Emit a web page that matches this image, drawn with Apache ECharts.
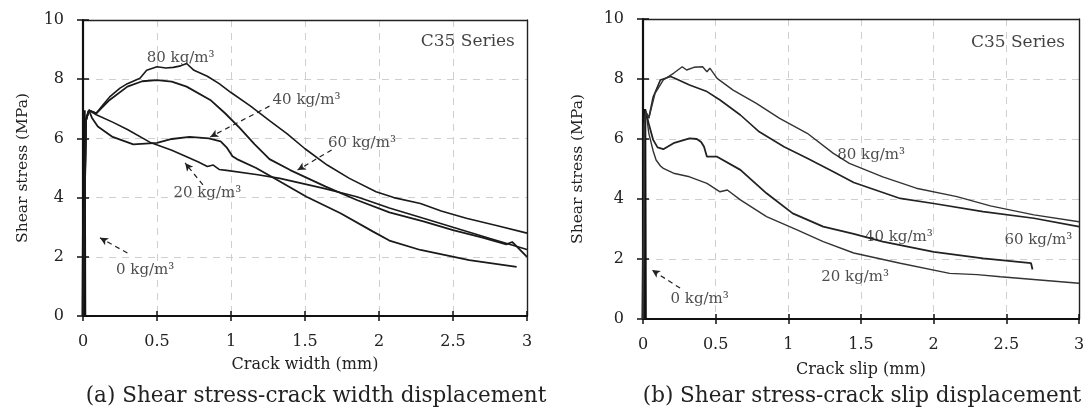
<!DOCTYPE html>
<html>
<head>
<meta charset="utf-8">
<script src="https://cdn.jsdelivr.net/npm/echarts@6/dist/echarts.min.js"></script>
<style>
html,body{margin:0;padding:0;background:#fff;}
#c{width:1091px;height:410px;}
</style>
</head>
<body>
<div id="c"></div>
<script>
// ---------- DATA ----------
const xTickInterval = 0.5;
const yTickInterval = 2;
const captions = ['(a) Shear stress-crack width displacement', '(b) Shear stress-crack slip displacement'];
const xTitles = ['Crack width (mm)', 'Crack slip (mm)'];
const yTitle = 'Shear stress (MPa)';
const seriesTag = 'C35 Series';

// (a) Shear stress vs crack width  [width mm, stress MPa]
const width0 = [[0,0],[0.008,6.95],[0.012,0]];
const width20 = [[0,0],[0.02,6.7],[0.04,6.95],[0.09,6.8],[0.2,6.55],[0.3,6.3],[0.46,5.85],[0.6,5.6],[0.7,5.38],[0.78,5.2],[0.84,5.05],[0.88,5.1],[0.92,4.95],[0.97,4.92],[1.17,4.78],[1.33,4.65],[1.62,4.32],[1.85,4.03],[2.07,3.65],[2.3,3.3],[2.5,3.0],[2.75,2.62],[3.0,2.25]];
const width40 = [[0,0],[0.02,6.6],[0.04,6.95],[0.06,6.7],[0.1,6.4],[0.2,6.05],[0.34,5.8],[0.5,5.85],[0.6,5.98],[0.72,6.05],[0.85,6.0],[0.93,5.9],[0.97,5.7],[1.01,5.4],[1.04,5.3],[1.17,5.0],[1.31,4.6],[1.51,4.03],[1.74,3.47],[1.96,2.85],[2.07,2.55],[2.28,2.23],[2.61,1.89],[2.93,1.66]];
const width60 = [[0,0],[0.02,6.6],[0.04,6.95],[0.09,6.85],[0.18,7.3],[0.3,7.75],[0.4,7.93],[0.5,7.97],[0.6,7.92],[0.7,7.75],[0.86,7.3],[0.96,6.85],[1.06,6.35],[1.16,5.8],[1.26,5.3],[1.4,4.93],[1.64,4.37],[1.85,3.92],[2.07,3.5],[2.3,3.2],[2.5,2.9],[2.7,2.65],[2.86,2.42],[2.9,2.5],[2.93,2.35],[3.0,2.0]];
const width80 = [[0,0],[0.02,6.6],[0.04,6.95],[0.09,6.85],[0.13,7.1],[0.18,7.4],[0.25,7.7],[0.3,7.85],[0.385,8.03],[0.43,8.3],[0.5,8.42],[0.56,8.38],[0.61,8.4],[0.66,8.45],[0.7,8.53],[0.75,8.3],[0.84,8.1],[0.92,7.85],[1.0,7.55],[1.13,7.1],[1.26,6.6],[1.38,6.15],[1.5,5.65],[1.65,5.1],[1.8,4.65],[1.98,4.2],[2.1,4.0],[2.28,3.8],[2.42,3.55],[2.59,3.3],[2.8,3.05],[3.0,2.8]];

// (b) Shear stress vs crack slip  [slip mm, stress MPa]
const slip0 = [[0,0],[0.012,7.0],[0.016,0]];
const slip20 = [[0,0],[0.01,6.5],[0.02,6.95],[0.04,6.19],[0.07,5.6],[0.09,5.3],[0.12,5.1],[0.14,5.02],[0.21,4.86],[0.32,4.74],[0.44,4.52],[0.53,4.24],[0.58,4.3],[0.67,3.97],[0.85,3.41],[1.06,2.97],[1.24,2.58],[1.45,2.2],[1.77,1.86],[2.11,1.52],[2.3,1.48],[2.46,1.41],[2.73,1.3],[3.0,1.19]];
const slip40 = [[0,0],[0.01,6.5],[0.02,6.9],[0.04,6.5],[0.07,5.97],[0.1,5.72],[0.14,5.66],[0.21,5.86],[0.32,6.02],[0.37,6.0],[0.4,5.9],[0.42,5.74],[0.44,5.41],[0.51,5.41],[0.67,4.97],[0.85,4.19],[1.03,3.52],[1.24,3.08],[1.45,2.84],[1.65,2.58],[2.0,2.24],[2.34,2.02],[2.67,1.86],[2.68,1.65]];
const slip60 = [[0,0],[0.01,6.5],[0.02,6.9],[0.04,6.7],[0.07,7.4],[0.12,7.97],[0.19,8.08],[0.23,8.0],[0.32,7.8],[0.44,7.58],[0.53,7.3],[0.67,6.8],[0.8,6.24],[0.97,5.74],[1.13,5.36],[1.31,4.91],[1.45,4.55],[1.77,4.02],[2.0,3.85],[2.34,3.58],[2.69,3.36],[3.0,3.08]];
const slip80 = [[0,0],[0.01,6.5],[0.02,6.9],[0.04,6.7],[0.083,7.52],[0.14,7.97],[0.21,8.19],[0.27,8.41],[0.3,8.3],[0.35,8.39],[0.41,8.41],[0.44,8.24],[0.46,8.36],[0.51,8.02],[0.62,7.63],[0.78,7.19],[0.94,6.69],[1.13,6.19],[1.31,5.52],[1.42,5.19],[1.65,4.74],[1.88,4.36],[2.16,4.08],[2.39,3.77],[2.69,3.47],[3.0,3.24]];

// annotation labels [x, y, text] in data units
const labelsA = [[0.66,8.72,'80 kg/m³'],[1.51,7.3,'40 kg/m³'],[1.885,5.84,'60 kg/m³'],[0.84,4.16,'20 kg/m³'],[0.42,1.55,'0 kg/m³']];
const arrowsA = [[[1.26,7.09],[0.86,6.05]],[[1.68,5.61],[1.45,4.93]],[[0.81,4.43],[0.69,5.17]],[[0.30,2.13],[0.115,2.64]]];
const labelsB = [[1.57,5.47,'80 kg/m³'],[1.76,2.73,'40 kg/m³'],[2.72,2.63,'60 kg/m³'],[1.46,1.4,'20 kg/m³'],[0.39,0.67,'0 kg/m³']];
const arrowsB = [[[0.255,1.03],[0.062,1.63]]];
const tagPos = [[2.6,9.26],[2.58,9.23]];

// ---------- CHART ----------
const FONT = '"DejaVu Serif","Liberation Serif",serif';
const chart = echarts.init(document.getElementById('c'));

const grids = [
  {left:83, top:20, width:444, height:296},
  {left:643, top:19, width:436, height:300}
];

function mainX(g, name, gap){
  return {type:'value', gridIndex:g, min:0, max:3, interval:xTickInterval, position:'bottom',
    name:name, nameLocation:'middle', nameGap:gap,
    nameTextStyle:{fontFamily:FONT, fontSize:16, color:'#222'},
    axisLine:{show:true, onZero:false, lineStyle:{color:'#111', width:2.2}},
    axisTick:{show:true, inside:false, length:5, lineStyle:{color:'#111', width:1.5}},
    axisLabel:{fontFamily:FONT, fontSize:16, color:'#222', margin:18},
    splitLine:{show:true, lineStyle:{color:'#cfcfcf', type:[7,6], width:1}}};
}
function mainY(g, gap){
  return {type:'value', gridIndex:g, min:0, max:10, interval:yTickInterval, position:'left',
    name:yTitle, nameLocation:'middle', nameGap:gap,
    nameTextStyle:{fontFamily:FONT, fontSize:15.5, color:'#222'},
    axisLine:{show:true, onZero:false, lineStyle:{color:'#111', width:2.2}},
    axisTick:{show:true, inside:false, length:6, lineStyle:{color:'#111', width:1.5}},
    axisLabel:{fontFamily:FONT, fontSize:16, color:'#222', margin:19},
    splitLine:{show:true, lineStyle:{color:'#cfcfcf', type:[7,6], width:1}}};
}
function innerX(g){
  return {type:'value', gridIndex:g, min:0, max:3, interval:xTickInterval, position:'bottom',
    axisLine:{show:false}, axisLabel:{show:false}, splitLine:{show:false},
    axisTick:{show:true, inside:true, length:5, lineStyle:{color:'#111', width:1.5}}};
}
function innerY(g){
  return {type:'value', gridIndex:g, min:0, max:10, interval:yTickInterval, position:'left',
    axisLine:{show:false}, axisLabel:{show:false}, splitLine:{show:false},
    axisTick:{show:true, inside:true, length:6, lineStyle:{color:'#111', width:1.5}}};
}
function frameX(g){
  return {type:'value', gridIndex:g, min:0, max:3, interval:xTickInterval, position:'top',
    axisLine:{show:true, onZero:false, lineStyle:{color:'#222', width:1.4}},
    axisLabel:{show:false}, splitLine:{show:false}, axisTick:{show:false}};
}
function frameY(g){
  return {type:'value', gridIndex:g, min:0, max:10, interval:yTickInterval, position:'right',
    axisLine:{show:true, onZero:false, lineStyle:{color:'#222', width:1.4}},
    axisLabel:{show:false}, splitLine:{show:false}, axisTick:{show:false}};
}

function curve(data, g, width, color){
  return {type:'line', xAxisIndex:g*3, yAxisIndex:g*3, data:data, showSymbol:false,
    symbol:'none', smooth:false, silent:true, z:3,
    lineStyle:{color:color, width:width}};
}

function annot(g, labels, arrows, tag){
  const data = labels.map(l => ({value:[l[0], l[1]], name:l[2],
    label:{fontSize:15}}));
  data.push({value:tag, name:seriesTag, label:{fontSize:17, color:'#111'}});
  return {type:'scatter', xAxisIndex:g*3, yAxisIndex:g*3, symbolSize:1,
    itemStyle:{color:'rgba(0,0,0,0)'}, silent:true, z:5,
    label:{show:true, position:'inside', formatter:'{b}', fontFamily:FONT,
      color:'#222'},
    data:data,
    markLine:{silent:true, symbol:['none','arrow'], symbolSize:[6,8], animation:false,
      label:{show:false},
      lineStyle:{type:[5,4], color:'#222', width:1.2},
      data: arrows.map(a => [{coord:a[0]}, {coord:a[1]}])}
  };
}

const option = {
  animation:false,
  backgroundColor:'#fff',
  grid: grids.map(g => Object.assign({show:false, containLabel:false}, g)),
  xAxis:[mainX(0, xTitles[0], 41), innerX(0), frameX(0), mainX(1, xTitles[1], 43), innerX(1), frameX(1)],
  yAxis:[mainY(0, 52), innerY(0), frameY(0), mainY(1, 57), innerY(1), frameY(1)],
  series:[
    curve(width0, 0, 3, '#111'),
    curve(width20, 0, 1.6, '#1a1a1a'),
    curve(width40, 0, 1.8, '#1a1a1a'),
    curve(width60, 0, 1.8, '#1a1a1a'),
    curve(width80, 0, 1.6, '#1a1a1a'),
    annot(0, labelsA, arrowsA, tagPos[0]),
    curve(slip0, 1, 3, '#111'),
    curve(slip20, 1, 1.4, '#333'),
    curve(slip40, 1, 1.8, '#222'),
    curve(slip60, 1, 1.6, '#222'),
    curve(slip80, 1, 1.4, '#333'),
    annot(1, labelsB, arrowsB, tagPos[1])
  ],
  graphic:[
    {type:'text', x:316, y:396, style:{text:captions[0], font:'21.5px ' + FONT, fill:'#222', textAlign:'center', textVerticalAlign:'middle'}},
    {type:'text', x:862, y:396, style:{text:captions[1], font:'21.5px ' + FONT, fill:'#222', textAlign:'center', textVerticalAlign:'middle'}}
  ]
};
chart.setOption(option);
</script>
</body>
</html>
